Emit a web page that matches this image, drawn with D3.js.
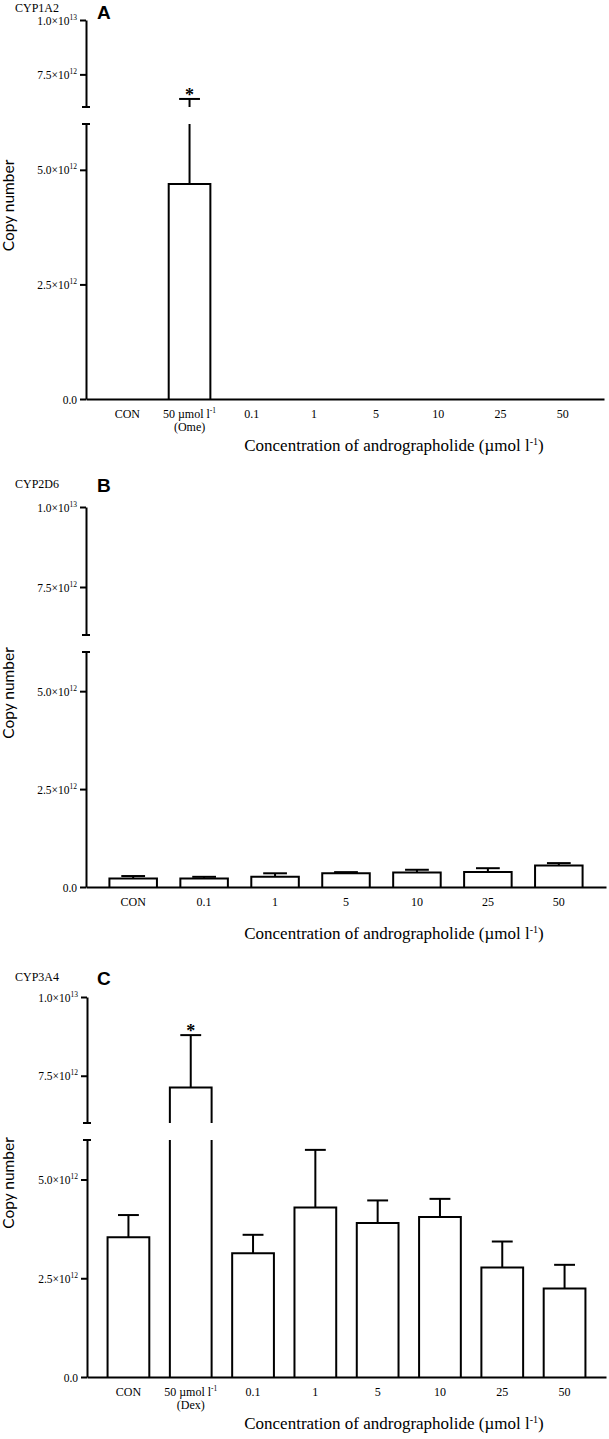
<!DOCTYPE html>
<html>
<head>
<meta charset="utf-8">
<script src="https://cdn.jsdelivr.net/npm/d3@7"></script>
<style>
  body { margin: 0; background: #fff; }
  text { fill: #000; }
</style>
</head>
<body>
<div class="canvas"></div>
<script>
// Copy numbers in units of 10^12
const catsA = ["CON", "50 µmol l^-1|(Ome)", "0.1", "1", "5", "10", "25", "50"];
const meanA = [0, 4.69, 0, 0, 0, 0, 0, 0];
const errA = [0, 1.68, 0, 0, 0, 0, 0, 0];
const starA = [false, true, false, false, false, false, false, false];

const catsB = ["CON", "0.1", "1", "5", "10", "25", "50"];
const meanB = [0.22, 0.22, 0.26, 0.35, 0.37, 0.38, 0.55];
const errB = [0.06, 0.04, 0.09, 0.03, 0.07, 0.10, 0.06];
const starB = [false, false, false, false, false, false, false];

const catsC = ["CON", "50 µmol l^-1|(Dex)", "0.1", "1", "5", "10", "25", "50"];
const meanC = [3.54, 7.13, 3.13, 4.29, 3.90, 4.05, 2.77, 2.24];
const errC = [0.56, 1.66, 0.47, 1.46, 0.57, 0.46, 0.66, 0.60];
const starC = [false, true, false, false, false, false, false, false];

const yTicksLo = [0, 2.5, 5];
const yTicksHi = [7.5, 10];
const breakAt = 6;
const yMax = 10;

const genes = ["CYP1A2", "CYP2D6", "CYP3A4"];
const letters = ["A", "B", "C"];
const yTitle = "Copy number";
const xTitle = "Concentration of andrographolide (µmol l^-1)";

const serif = "'Liberation Serif', 'Times New Roman', serif";
const sans = "Lato, 'DejaVu Sans', sans-serif";

const svg = d3
  .select(".canvas")
  .append("svg")
  .attr("width", 609)
  .attr("height", 1439);

// layout of each panel (pixels)
const panels = [
  { cats: catsA, mean: meanA, err: errA, star: starA, left: 86, right: 604,
    top: 20, hiBot: 107, loTop: 124, zero: 399, geneY: 12, letterY: 19 },
  { cats: catsB, mean: meanB, err: errB, star: starB, left: 86, right: 606,
    top: 507, hiBot: 635, loTop: 652, zero: 887, geneY: 488, letterY: 492 },
  { cats: catsC, mean: meanC, err: errC, star: starC, left: 87, right: 606,
    top: 997, hiBot: 1123, loTop: 1140, zero: 1377, geneY: 981, letterY: 985 },
];

// write "abc^-1" as text with a superscript tspan
const addSup = (sel, str, supSize, supDy) => {
  const parts = str.split("^");
  sel.append("tspan").text(parts[0]);
  if (parts.length > 1) {
    const m = parts[1].match(/^(-?\d+)(.*)$/);
    sel.append("tspan").attr("font-size", supSize).attr("dy", -supDy).text(m[1]);
    if (m[2]) sel.append("tspan").attr("dy", supDy).text(m[2]);
  }
};

const tickText = (v) => {
  if (v === 0) return "0.0";
  const n = v * 1e12;
  const e = Math.floor(Math.log10(n));
  return (n / Math.pow(10, e)).toFixed(1) + "×10^" + e;
};

const drawPanel = (p, k) => {
  const g = svg.append("g");

  const x = d3.scaleBand().domain(p.cats).range([p.left, p.right]).padding(0.33);
  const yLo = d3.scaleLinear().domain([0, breakAt]).range([p.zero, p.loTop]);
  const yHi = d3.scaleLinear().domain([breakAt, yMax]).range([p.hiBot, p.top]);
  const bw = x.bandwidth();

  // y value -> pixel, split across the break
  const segs = (a, b) => {
    const out = [];
    if (a < breakAt) out.push([yLo(a), yLo(Math.min(b, breakAt))]);
    if (b > breakAt) out.push([yHi(Math.max(a, breakAt)), yHi(b)]);
    return out;
  };
  const yOf = (v) => (v <= breakAt ? yLo(v) : yHi(v));

  const data = p.cats.map((c, i) => ({ c, m: p.mean[i], e: p.err[i], s: p.star[i] }));
  const bars = data.filter((d) => d.m > 0);

  // Bars (lower part)
  g.append("g")
    .selectAll("path")
    .data(bars)
    .enter()
    .append("path")
    .attr("fill", "#fff")
    .attr("stroke", "#000")
    .attr("stroke-width", 2)
    .attr("d", (d) => {
      const x0 = x(d.c), x1 = x0 + bw;
      if (d.m <= breakAt) return `M${x0},${p.zero}V${yLo(d.m)}H${x1}V${p.zero}`;
      return `M${x0},${p.zero}V${p.loTop}M${x1},${p.loTop}V${p.zero}`;
    });

  // Bars (upper part)
  g.append("g")
    .selectAll("path")
    .data(bars.filter((d) => d.m > breakAt))
    .enter()
    .append("path")
    .attr("fill", "#fff")
    .attr("stroke", "#000")
    .attr("stroke-width", 2)
    .attr("d", (d) => {
      const x0 = x(d.c), x1 = x0 + bw;
      return `M${x0},${p.hiBot}V${yHi(d.m)}H${x1}V${p.hiBot}`;
    });

  // Error bars
  const eg = g.append("g").attr("stroke", "#000").attr("stroke-width", 2);
  bars.filter((d) => d.e > 0).forEach((d) => {
    const cx = x(d.c) + bw / 2;
    segs(d.m, d.m + d.e).forEach(([y1, y2]) => {
      eg.append("line").attr("x1", cx).attr("x2", cx).attr("y1", y1).attr("y2", y2);
    });
    const yt = yOf(d.m + d.e);
    eg.append("line")
      .attr("x1", cx - bw / 4).attr("x2", cx + bw / 4)
      .attr("y1", yt).attr("y2", yt);
    if (d.s) {
      g.append("text")
        .attr("x", cx)
        .attr("y", yt + 2)
        .attr("text-anchor", "middle")
        .attr("font-family", serif)
        .attr("font-weight", "bold")
        .attr("font-size", 18)
        .text("*");
    }
  });

  // Y axis, two segments
  const styleAxis = (a) => {
    a.select(".domain").attr("stroke-width", 2);
    a.selectAll(".tick line").attr("stroke-width", 2);
    a.selectAll(".tick text")
      .attr("font-family", serif)
      .attr("font-size", 11.5)
      .attr("dy", "0.35em")
      .each(function (v) {
        const t = d3.select(this).text("");
        addSup(t, tickText(v), 7.5, 5);
      });
  };

  const axLo = g.append("g")
    .attr("transform", `translate(${p.left},0)`)
    .call(d3.axisLeft(yLo).tickValues(yTicksLo).tickSize(6).tickSizeOuter(0).tickPadding(3));
  styleAxis(axLo);
  const axHi = g.append("g")
    .attr("transform", `translate(${p.left},0)`)
    .call(d3.axisLeft(yHi).tickValues(yTicksHi).tickSize(6).tickSizeOuter(0).tickPadding(3));
  styleAxis(axHi);

  // caps at the break
  [p.hiBot, p.loTop].forEach((yy) => {
    g.append("line")
      .attr("x1", p.left - 4).attr("x2", p.left + 4)
      .attr("y1", yy).attr("y2", yy)
      .attr("stroke", "#000").attr("stroke-width", 2);
  });

  // X axis
  const axX = g.append("g")
    .attr("transform", `translate(0,${p.zero})`)
    .call(d3.axisBottom(x).tickSize(0).tickSizeOuter(0).tickPadding(0));
  axX.select(".domain").attr("stroke-width", 2);
  axX.selectAll(".tick text")
    .attr("font-family", serif)
    .attr("font-size", 12)
    .attr("y", 0)
    .attr("dy", null)
    .each(function (c) {
      const t = d3.select(this).text("");
      c.split("|").forEach((line, i) => {
        const ln = t.append("tspan").attr("x", 0).attr("y", 19 + i * 13);
        addSup(ln, line, 7.5, 5);
      });
    });

  // Titles
  g.append("text")
    .attr("x", 394)
    .attr("y", p.zero + 52)
    .attr("text-anchor", "middle")
    .attr("font-family", serif)
    .attr("font-size", 17)
    .call((t) => addSup(t, xTitle, 10, 6));

  g.append("text")
    .attr("transform", `translate(14,${(p.top + p.zero) / 2 - 4}) rotate(-90)`)
    .attr("text-anchor", "middle")
    .attr("font-family", sans)
    .attr("font-size", 15.5)
    .text(yTitle);

  g.append("text")
    .attr("x", 15)
    .attr("y", p.geneY)
    .attr("font-family", serif)
    .attr("font-size", 12)
    .text(genes[k]);

  g.append("text")
    .attr("x", 97)
    .attr("y", p.letterY)
    .attr("font-family", "'Liberation Sans', Arial, sans-serif")
    .attr("font-weight", "bold")
    .attr("font-size", 19)
    .text(letters[k]);
};

panels.forEach(drawPanel);
</script>
</body>
</html>
